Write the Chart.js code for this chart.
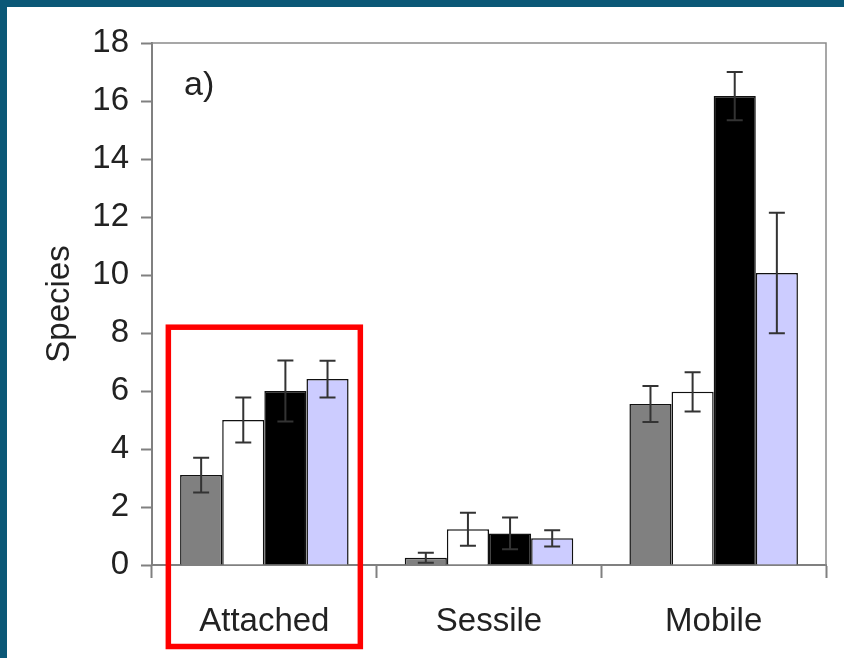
<!DOCTYPE html>
<html>
<head>
<meta charset="utf-8">
<script src="https://cdn.jsdelivr.net/npm/chart.js@4"></script>
<style>
  html, body { margin: 0; padding: 0; background: #0b5877; }
  #wrap { position: absolute; left: 7px; top: 7px; width: 837px; height: 651px; background: #fff; }
</style>
</head>
<body>
<div id="wrap"><canvas id="chart"></canvas></div>
<script>
// values
const categories = ['Attached', 'Sessile', 'Mobile'];
const grayVals  = [3.1, 0.25, 5.55];
const grayErr   = [0.6, 0.17, 0.62];
const whiteVals = [5.0, 1.23, 5.97];
const whiteErr  = [0.78, 0.57, 0.68];
const blackVals = [6.0, 1.09, 16.17];
const blackErr  = [1.05, 0.55, 0.83];
const lavVals   = [6.41, 0.92, 10.07];
const lavErr    = [0.63, 0.28, 2.08];
const yTicks    = [0, 2, 4, 6, 8, 10, 12, 14, 16, 18];

const FONT = 'Liberation Sans, Arial, sans-serif';

const errorBars = {
  id: 'errorBars',
  afterDatasetsDraw(chart) {
    const ctx = chart.ctx;
    const y = chart.scales.y;
    ctx.save();
    ctx.strokeStyle = '#333';
    ctx.lineWidth = 2;
    chart.data.datasets.forEach((ds, i) => {
      chart.getDatasetMeta(i).data.forEach((bar, j) => {
        const v = ds.data[j], e = ds.err[j];
        const top = y.getPixelForValue(v + e), bot = y.getPixelForValue(v - e);
        const x = bar.x, cap = 8;
        ctx.beginPath();
        ctx.moveTo(x, top); ctx.lineTo(x, bot);
        ctx.moveTo(x - cap, top); ctx.lineTo(x + cap, top);
        ctx.moveTo(x - cap, bot); ctx.lineTo(x + cap, bot);
        ctx.stroke();
      });
    });
    ctx.restore();
  }
};

const frame = {
  id: 'frame',
  afterDraw(chart) {
    const a = chart.chartArea, ctx = chart.ctx;
    const xs = chart.scales.x, ys = chart.scales.y;
    ctx.save();
    ctx.strokeStyle = '#8a8a8a';
    ctx.lineWidth = 1.5;
    ctx.beginPath();
    ctx.moveTo(a.left, a.top); ctx.lineTo(a.right, a.top); ctx.lineTo(a.right, a.bottom);
    ctx.stroke();
    ctx.fillStyle = '#222';
    ctx.font = '34px ' + FONT;
    ctx.textBaseline = 'alphabetic';
    ctx.fillText('a)', a.left + 32, a.top + 52);
    // red highlight box around the first category
    const cx = xs.getPixelForValue(0);
    const top = ys.getPixelForValue(8.2);
    ctx.strokeStyle = '#ff0000';
    ctx.lineWidth = 5.5;
    ctx.strokeRect(cx - 96, top, 192, chart.height - 11.5 - top);
    ctx.restore();
  }
};

const bar = (vals, err, fill) => ({
  data: vals, err: err, backgroundColor: fill,
  borderColor: '#111', borderWidth: 1.5,
  categoryPercentage: 0.75, barPercentage: 1.0
});

new Chart(document.getElementById('chart').getContext('2d'), {
  type: 'bar',
  data: {
    labels: categories,
    datasets: [
      bar(grayVals, grayErr, '#808080'),
      bar(whiteVals, whiteErr, '#ffffff'),
      bar(blackVals, blackErr, '#000000'),
      bar(lavVals, lavErr, '#ccccff')
    ]
  },
  options: {
    responsive: true,
    maintainAspectRatio: false,
    animation: false,
    layout: { padding: { left: 0, top: 36, right: 18, bottom: 0 } },
    plugins: { legend: { display: false }, tooltip: { enabled: false } },
    scales: {
      x: {
        afterFit: s => { s.height = 93; },
        grid: { offset: true, drawOnChartArea: false, tickLength: 13, color: '#808080', tickWidth: 2 },
        border: { color: '#808080', width: 2 },
        ticks: { color: '#222', font: { family: FONT, size: 33 }, padding: 24 }
      },
      y: {
        min: 0, max: 18,
        afterFit: s => { s.width = 145; },
        afterBuildTicks: s => { s.ticks = yTicks.map(v => ({ value: v })); },
        grid: { drawOnChartArea: false, tickLength: 11, color: '#808080', tickWidth: 2 },
        border: { color: '#808080', width: 2 },
        ticks: { color: '#222', font: { family: FONT, size: 33 }, padding: 12 },
        title: { display: true, text: 'Species', color: '#222', font: { family: FONT, size: 33 }, padding: { top: 33, bottom: 0 } }
      }
    }
  },
  plugins: [errorBars, frame]
});
</script>
</body>
</html>
